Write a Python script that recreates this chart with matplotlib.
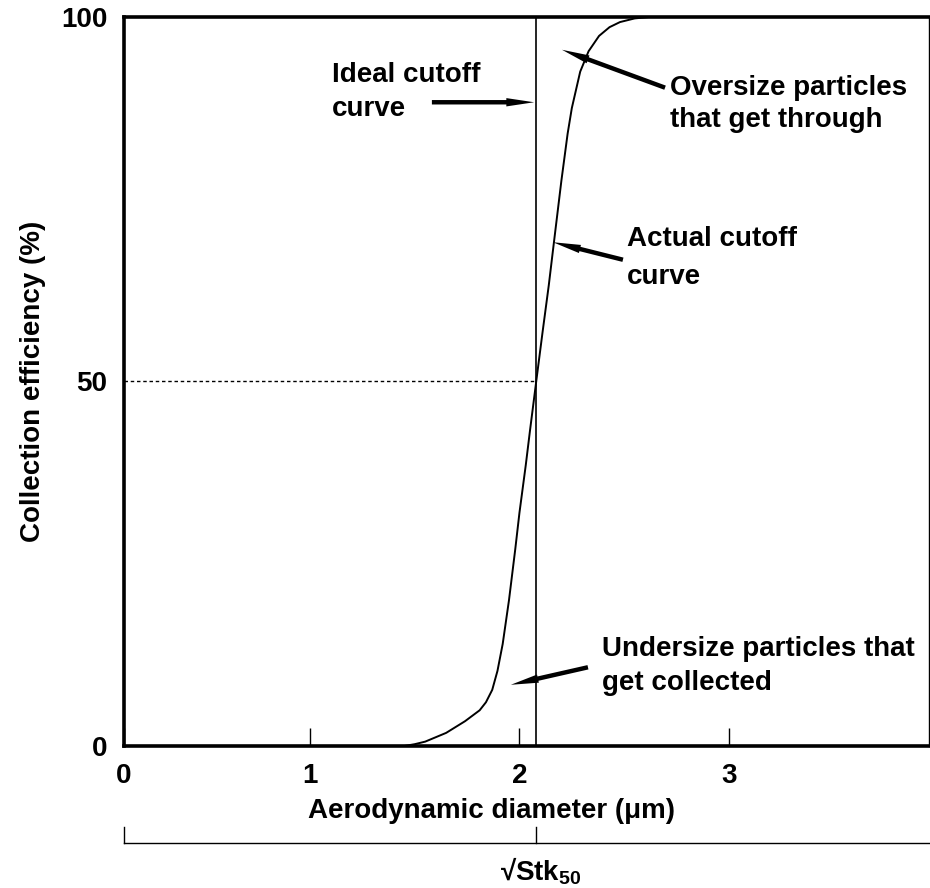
import matplotlib
matplotlib.use("Agg")
from matplotlib import pyplot as plt
from matplotlib import transforms

plt.rcParams['font.family'] = ['Liberation Sans', 'DejaVu Sans']
plt.rcParams['font.weight'] = 'bold'
plt.rcParams['mathtext.fontset'] = 'custom'
plt.rcParams['mathtext.rm'] = 'Liberation Sans:bold'

# Aerodynamic diameter (um) and collection efficiency (%) of the real impactor
diameter = [1.45, 1.50, 1.55, 1.65, 1.74, 1.81, 1.84, 1.87, 1.895, 1.92, 1.95,
            1.98, 2.00, 2.03, 2.05, 2.08, 2.11, 2.14, 2.16, 2.20, 2.23, 2.25,
            2.29, 2.33, 2.38, 2.43, 2.48, 2.55, 2.62, 3.96]
efficiency = [0, 0.25, 0.6, 1.8, 3.4, 4.9, 6.0, 7.7, 10.3, 14, 20,
              27, 32, 38.5, 43.2, 50, 56.7, 63.2, 68, 77.5, 84, 87.5,
              92.5, 95.3, 97.4, 98.6, 99.3, 99.8, 100, 100]

d50 = 2.08          # cutoff diameter
x_min, x_max = 0.112, 3.955
tick_pos = [x_min, 1, 2, 3]
tick_labels = ['0', '1', '2', '3']
y_ticks = [0, 50, 100]

FS = 20

fig = plt.figure(figsize=(9.3, 8.88), dpi=100)
ax = fig.add_axes([0.1333, 0.1599, 0.8656, 0.821])

# Actual and ideal cutoff curves
ax.plot(diameter, efficiency, color='black', lw=1.4, solid_capstyle='round',
        solid_joinstyle='round')
ax.plot([d50, d50], [0, 100], color='black', lw=1.2)
ax.plot([x_min, d50], [50, 50], color='black', lw=1.0, linestyle=(0, (2.5, 2)))

ax.set_xlim(x_min, x_max)
ax.set_ylim(0, 100)

ax.set_xticks(tick_pos)
ax.set_xticklabels(tick_labels, fontsize=FS)
ax.set_yticks(y_ticks)
ax.set_yticklabels([str(v) for v in y_ticks], fontsize=FS)
ax.tick_params(axis='x', direction='in', length=13, width=1.0, pad=12)
ax.tick_params(axis='y', length=0, pad=12)

for side in ['left', 'bottom', 'top']:
    ax.spines[side].set_linewidth(2.6)
ax.spines['right'].set_linewidth(1.0)

# Axis titles
ax.text(0.457, -0.089, 'Aerodynamic diameter (\u03bcm)', transform=ax.transAxes,
        ha='center', va='center', fontsize=FS)
ax.text(-0.113, 0.5, 'Collection efficiency (%)', transform=ax.transAxes,
        ha='center', va='center', rotation=90, fontsize=FS)

# Stokes number scale bracket below the axis
trans = transforms.blended_transform_factory(ax.transData, ax.transAxes)
ax.plot([x_min, x_max], [-0.133, -0.133], transform=trans, color='black',
        lw=1.0, clip_on=False)
ax.plot([x_min, x_min], [-0.111, -0.133], transform=trans, color='black',
        lw=1.0, clip_on=False)
ax.plot([d50, d50], [-0.111, -0.133], transform=trans, color='black',
        lw=1.0, clip_on=False)
ax.text(d50 + 0.02, -0.171, '\u221aStk$_{50}$', transform=trans,
        ha='center', va='center', fontsize=FS)

# Labels with arrows
arrow = dict(arrowstyle='simple,head_length=2.0,head_width=0.6,tail_width=0.32',
             mutation_scale=10, fc='black', ec='none', lw=0,
             shrinkA=0, shrinkB=0)

ax.text(1.105, 89.7, 'Ideal cutoff\ncurve', ha='left', va='center',
        fontsize=FS, linespacing=1.43)
ax.annotate('', xy=(2.07, 88.3), xytext=(1.582, 88.3), arrowprops=arrow)

ax.text(2.718, 88.1, 'Oversize particles\nthat get through', ha='left',
        va='center', fontsize=FS, linespacing=1.31)
ax.annotate('', xy=(2.203, 95.5), xytext=(2.695, 90.3), arrowprops=arrow)

ax.text(2.513, 67.0, 'Actual cutoff\ncurve', ha='left', va='center',
        fontsize=FS, linespacing=1.6)
ax.annotate('', xy=(2.16, 69.1), xytext=(2.494, 66.7), arrowprops=arrow)

ax.text(2.394, 11.0, 'Undersize particles that\nget collected', ha='left',
        va='center', fontsize=FS, linespacing=1.43)
ax.annotate('', xy=(1.959, 8.4), xytext=(2.327, 10.8), arrowprops=arrow)

fig.savefig('out.png', dpi=100)
